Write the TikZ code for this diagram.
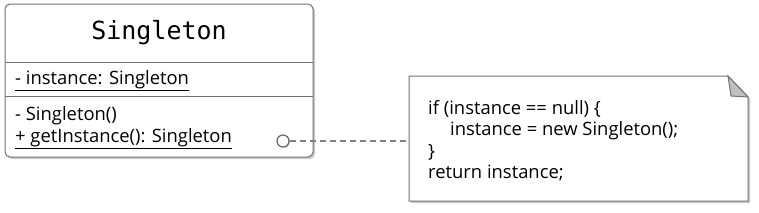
\documentclass[tikz,border=0pt]{standalone}
\usepackage{fontspec}
\setmainfont{Open Sans}
\setmonofont{DejaVu Sans Mono}
\usetikzlibrary{shadows}

\begin{document}
\begin{tikzpicture}[x=1pt,y=-1pt,
    umlbox/.style={draw=black!55, line width=1pt, fill=white,
      drop shadow={shadow xshift=2pt, shadow yshift=-2pt, opacity=0.35, fill=black!60}},
    member/.style={anchor=base west, inner sep=0pt, font=\fontsize{18.4}{21}\selectfont},
    link/.style={draw=black!50, line width=1.6pt, dash pattern=on 6pt off 4pt}]
    \useasboundingbox (0,0) rectangle (759,212);
    % Klasse
    \draw[umlbox, rounded corners=5pt] (5,4) rectangle (313,157);
    \draw[black!55, line width=1pt] (5,62) -- (313,62);
    \draw[black!55, line width=1pt] (5,96) -- (313,96);
    \node[font=\ttfamily\fontsize{25}{28}\selectfont] (title) at (159,33) {Singleton};
    % Attribute und Methoden
    \node[member] (attr) at (15,84) {\underline{- instance: Singleton}};
    \node[member] (ctor) at (15,120) {- Singleton()};
    \node[member] (getinst) at (15,142) {\underline{+ getInstance(): Singleton}};
    % Notiz
    \draw[umlbox] (409,76) -- (728,76) -- (748,97) -- (748,201) -- (409,201) -- cycle;
    \draw[black!55, line width=1pt, fill=black!25] (728,76) -- (731,96) -- (748,97) -- cycle;
    \node[member] (code1) at (428,114) {if (instance == null) \{};
    \node[member] (code2) at (450,135) {instance = new Singleton();};
    \node[member] (code3) at (428,157) {\}};
    \node[member] (code4) at (428,178) {return instance;};
    \coordinate (noteedge) at (409,141);
    % Verbindung
    \node[circle, draw=black!60, line width=1.2pt, fill=white, inner sep=0pt, minimum size=12pt,
      drop shadow={shadow xshift=1pt, shadow yshift=-1pt, opacity=0.3}] (anchorpt) at (283,141) {};
    \draw[link] (anchorpt) -- (noteedge);
\end{tikzpicture}
\end{document}
